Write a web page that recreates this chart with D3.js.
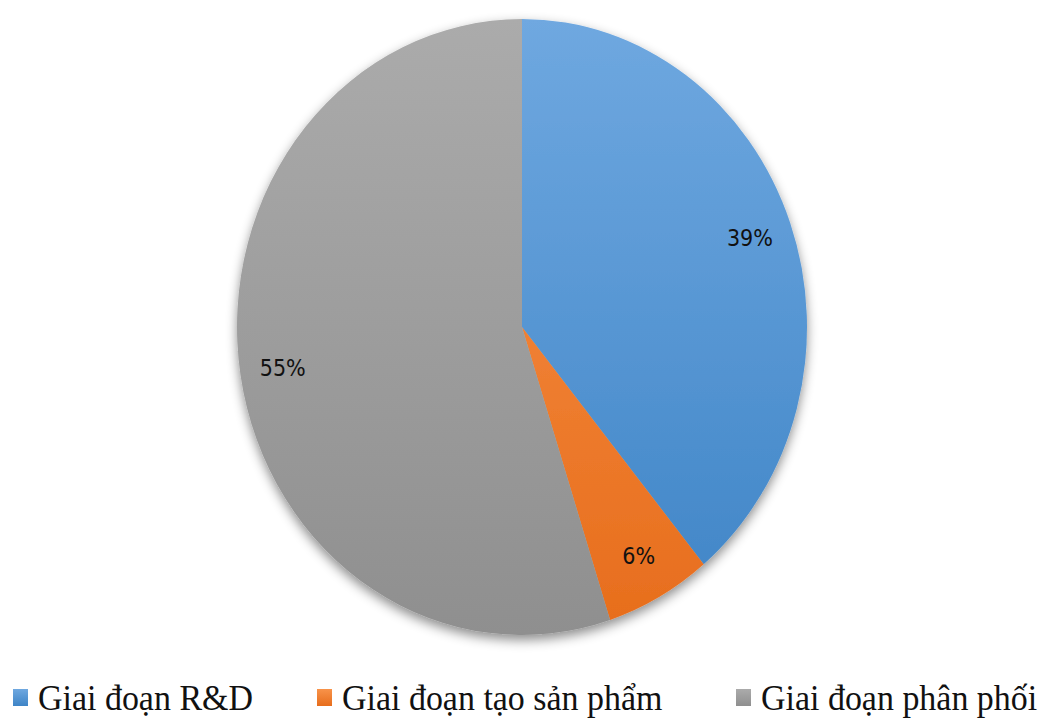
<!DOCTYPE html>
<html>
<head>
<meta charset="utf-8">
<script src="https://cdn.jsdelivr.net/npm/d3@7"></script>
<style>
  body { margin: 0; background: #fff; }
  svg { display: block; }
</style>
</head>
<body>
<div class="chart"></div>
<script>
// values, clockwise from 12 o'clock
const categories = ["Giai đoạn R&D", "Giai đoạn tạo sản phẩm", "Giai đoạn phân phối"];
const shares = [39, 6, 55];
const colorsTop = ["#6fa8e0", "#f8934a", "#ababab"];
const colorsBottom = ["#3e84c6", "#e76d1c", "#8f8f8f"];

const w = 1048;
const h = 718;
const cx = 522;
const cy = 327;
const rx = 285;
const ry = 308;
const legendX = [13, 317, 736];

const svg = d3.select(".chart")
  .append("svg")
  .attr("width", w)
  .attr("height", h);

const defs = svg.append("defs");

defs.append("filter")
  .attr("id", "shadow")
  .attr("x", "-20%").attr("y", "-20%")
  .attr("width", "140%").attr("height", "140%")
  .append("feDropShadow")
  .attr("dx", 0).attr("dy", 5)
  .attr("stdDeviation", 6)
  .attr("flood-color", "#000")
  .attr("flood-opacity", 0.45);

categories.forEach((c, i) => {
  const g = defs.append("linearGradient")
    .attr("id", "grad" + i)
    .attr("gradientUnits", "userSpaceOnUse")
    .attr("x1", 0).attr("y1", -ry)
    .attr("x2", 0).attr("y2", ry);
  g.append("stop").attr("offset", "0%").attr("stop-color", colorsTop[i]);
  g.append("stop").attr("offset", "100%").attr("stop-color", colorsBottom[i]);

  const lg = defs.append("linearGradient")
    .attr("id", "leg" + i)
    .attr("x1", 0).attr("y1", 0)
    .attr("x2", 0).attr("y2", 1);
  lg.append("stop").attr("offset", "0%").attr("stop-color", colorsTop[i]);
  lg.append("stop").attr("offset", "100%").attr("stop-color", colorsBottom[i]);
});

const pie = d3.pie().sort(null).value((d) => d);
const arcs = pie(shares);

const arc = d3.arc().innerRadius(0).outerRadius(ry);
const labelArc = d3.arc().innerRadius(ry * 0.85).outerRadius(ry * 0.85);

// pie is an ellipse in the picture, so squeeze x
const pieG = svg.append("g")
  .attr("transform", `translate(${cx},${cy}) scale(${rx / ry},1)`)
  .attr("filter", "url(#shadow)");

pieG.selectAll("path")
  .data(arcs)
  .enter()
  .append("path")
  .attr("d", arc)
  .attr("fill", (d, i) => `url(#grad${i})`);

const total = d3.sum(shares);
svg.append("g")
  .selectAll("text")
  .data(arcs)
  .enter()
  .append("text")
  .attr("x", (d) => cx + labelArc.centroid(d)[0] * rx / ry)
  .attr("y", (d) => cy + labelArc.centroid(d)[1])
  .attr("text-anchor", "middle")
  .attr("dominant-baseline", "central")
  .attr("font-family", "'Liberation Sans Narrow', 'DejaVu Sans Condensed', sans-serif")
  .attr("font-size", 23)
  .attr("fill", "#111")
  .text((d) => Math.round(d.data / total * 100) + "%");

const legend = svg.append("g")
  .selectAll("g")
  .data(categories)
  .enter()
  .append("g")
  .attr("transform", (d, i) => `translate(${legendX[i]},0)`);

legend.append("rect")
  .attr("x", 0)
  .attr("y", 689)
  .attr("width", 15)
  .attr("height", 17)
  .attr("fill", (d, i) => `url(#leg${i})`);

legend.append("text")
  .attr("transform", "translate(25,710) scale(0.97,1)")
  .attr("font-family", "'Liberation Serif', 'Times New Roman', serif")
  .attr("font-size", 35)
  .attr("fill", "#111")
  .text((d) => d);
</script>
</body>
</html>
